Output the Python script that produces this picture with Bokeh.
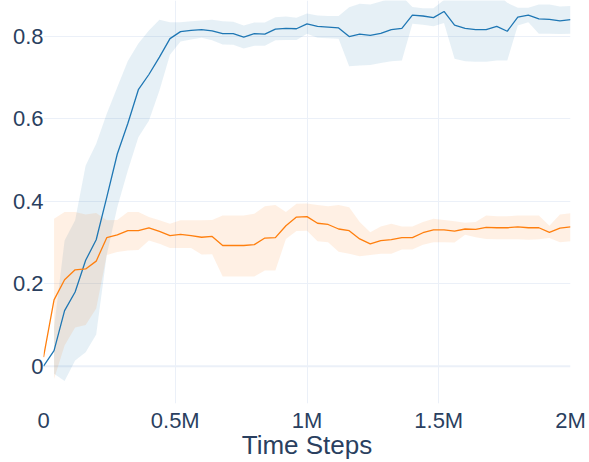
from bokeh.plotting import figure
from bokeh.models import Range1d, FixedTicker, Span
from bokeh.embed import file_html
from bokeh.resources import INLINE

steps = [0, 40000, 80000, 120000, 160000, 200000, 240000, 280000, 320000, 360000,
         400000, 440000, 480000, 520000, 560000, 600000, 640000, 680000, 720000, 760000,
         800000, 840000, 880000, 920000, 960000, 1000000, 1040000, 1080000, 1120000, 1160000,
         1200000, 1240000, 1280000, 1320000, 1360000, 1400000, 1440000, 1480000, 1520000, 1560000,
         1600000, 1640000, 1680000, 1720000, 1760000, 1800000, 1840000, 1880000, 1920000, 1960000,
         2000000]

blue_mean = [0.0, 0.038, 0.135, 0.18, 0.257, 0.307, 0.41, 0.515, 0.589, 0.671,
             0.708, 0.75, 0.795, 0.812, 0.815, 0.817, 0.814, 0.807, 0.807, 0.799,
             0.807, 0.806, 0.818, 0.82, 0.819, 0.831, 0.825, 0.823, 0.821, 0.8,
             0.806, 0.803, 0.808, 0.817, 0.82, 0.852, 0.85, 0.846, 0.861, 0.828,
             0.82, 0.817, 0.817, 0.825, 0.813, 0.847, 0.852, 0.843, 0.842, 0.838,
             0.841]
# band values start at the second point
blue_upper = [0.094, 0.305, 0.354, 0.487, 0.54, 0.613, 0.677, 0.741, 0.783,
              0.815, 0.841, 0.835, 0.835, 0.837, 0.839, 0.841, 0.837, 0.836, 0.827,
              0.834, 0.834, 0.847, 0.849, 0.846, 0.856, 0.851, 0.85, 0.85, 0.871,
              0.88, 0.878, 0.885, 0.894, 0.898, 0.872, 0.869, 0.869, 0.889, 0.91,
              0.9, 0.895, 0.895, 0.905, 0.882, 0.87, 0.87, 0.878, 0.878, 0.873,
              0.874]
blue_lower = [-0.018, -0.036, 0.014, 0.034, 0.077, 0.27, 0.386, 0.475, 0.556,
              0.596, 0.669, 0.756, 0.788, 0.793, 0.797, 0.791, 0.781, 0.78, 0.771,
              0.778, 0.778, 0.791, 0.792, 0.792, 0.807, 0.797, 0.796, 0.795, 0.728,
              0.73, 0.731, 0.736, 0.74, 0.742, 0.831, 0.829, 0.825, 0.833, 0.746,
              0.74, 0.739, 0.739, 0.742, 0.742, 0.827, 0.835, 0.807, 0.807, 0.806,
              0.807]

orange_mean = [0.022, 0.161, 0.21, 0.234, 0.236, 0.255, 0.312, 0.319, 0.329, 0.329,
               0.336, 0.327, 0.317, 0.32, 0.317, 0.313, 0.315, 0.293, 0.293, 0.293,
               0.295, 0.311, 0.312, 0.341, 0.362, 0.363, 0.347, 0.344, 0.333, 0.329,
               0.309, 0.297, 0.305, 0.307, 0.312, 0.312, 0.324, 0.331, 0.331, 0.328,
               0.333, 0.332, 0.337, 0.336, 0.336, 0.338, 0.336, 0.336, 0.325, 0.335,
               0.338]
orange_upper = [0.358, 0.374, 0.374, 0.368, 0.372, 0.354, 0.355, 0.374, 0.374,
                0.362, 0.354, 0.346, 0.354, 0.354, 0.354, 0.355, 0.366, 0.366, 0.366,
                0.37, 0.388, 0.391, 0.374, 0.394, 0.395, 0.391, 0.388, 0.391, 0.386,
                0.35, 0.325, 0.339, 0.346, 0.339, 0.339, 0.35, 0.358, 0.355, 0.352,
                0.348, 0.35, 0.366, 0.364, 0.364, 0.366, 0.366, 0.366, 0.341, 0.368,
                0.371]
orange_lower = [-0.031, 0.05, 0.094, 0.1, 0.14, 0.27, 0.277, 0.281, 0.282,
                0.305, 0.297, 0.287, 0.287, 0.287, 0.271, 0.272, 0.218, 0.218, 0.218,
                0.218, 0.232, 0.232, 0.309, 0.328, 0.329, 0.303, 0.301, 0.278, 0.273,
                0.267, 0.27, 0.273, 0.273, 0.283, 0.283, 0.295, 0.301, 0.301, 0.3,
                0.319, 0.313, 0.309, 0.308, 0.308, 0.308, 0.307, 0.308, 0.311, 0.301,
                0.303]

x_ticks = [0, 500000, 1000000, 1500000, 2000000]
x_tick_labels = ["0", "0.5M", "1M", "1.5M", "2M"]
y_ticks = [0, 0.2, 0.4, 0.6, 0.8]
y_tick_labels = ["0", "0.2", "0.4", "0.6", "0.8"]
x_title = "Time Steps"

BLUE = "#1f77b4"
ORANGE = "#ff7f0e"
GRID = "#EBF0F8"
TEXT = "#2a3f5f"
FONT = "Liberation Sans"

p = figure(frame_width=527, frame_height=403,
           x_range=Range1d(0, 2000000), y_range=Range1d(-0.0905, 0.8876),
           output_backend="svg", toolbar_location=None,
           min_border_left=43, min_border_right=19, min_border_top=0, min_border_bottom=0)
p.title.visible = False
p.outline_line_color = None
p.background_fill_color = "white"
p.border_fill_color = "white"

# grids
p.xgrid.ticker = FixedTicker(ticks=x_ticks[1:-1])
p.ygrid.ticker = FixedTicker(ticks=y_ticks[1:])
p.xgrid.grid_line_color = GRID
p.ygrid.grid_line_color = GRID
p.xgrid.grid_line_width = 1
p.ygrid.grid_line_width = 1
p.add_layout(Span(location=0, dimension="width", line_color=GRID, line_width=2, level="underlay"))

# axes
for ax in (p.xaxis[0], p.yaxis[0]):
    ax.axis_line_color = None
    ax.major_tick_line_color = None
    ax.minor_tick_line_color = None
    ax.major_tick_out = 0
    ax.major_tick_in = 0
    ax.major_label_text_font = FONT
    ax.major_label_text_font_size = "22px"
    ax.major_label_text_color = TEXT

p.xaxis.ticker = FixedTicker(ticks=x_ticks)
p.xaxis.major_label_overrides = {t: s for t, s in zip(x_ticks, x_tick_labels)}
p.yaxis.ticker = FixedTicker(ticks=y_ticks)
p.yaxis.major_label_overrides = {t: s for t, s in zip(y_ticks, y_tick_labels)}
p.xaxis.major_label_standoff = 4
p.yaxis.major_label_standoff = 0

p.xaxis.axis_label = x_title
p.xaxis.axis_label_text_font = FONT
p.xaxis.axis_label_text_font_size = "26px"
p.xaxis.axis_label_text_font_style = "normal"
p.xaxis.axis_label_text_color = TEXT
p.xaxis.axis_label_standoff = -6

# bands
p.varea(x=steps[1:], y1=blue_lower, y2=blue_upper, fill_color=BLUE, fill_alpha=0.115)
p.varea(x=steps[1:], y1=orange_lower, y2=orange_upper, fill_color=ORANGE, fill_alpha=0.115)

# mean lines
p.line(steps, blue_mean, line_color=BLUE, line_width=1.3)
p.line(steps, orange_mean, line_color=ORANGE, line_width=1.3)

open("out.html", "w").write(file_html(p, INLINE))
